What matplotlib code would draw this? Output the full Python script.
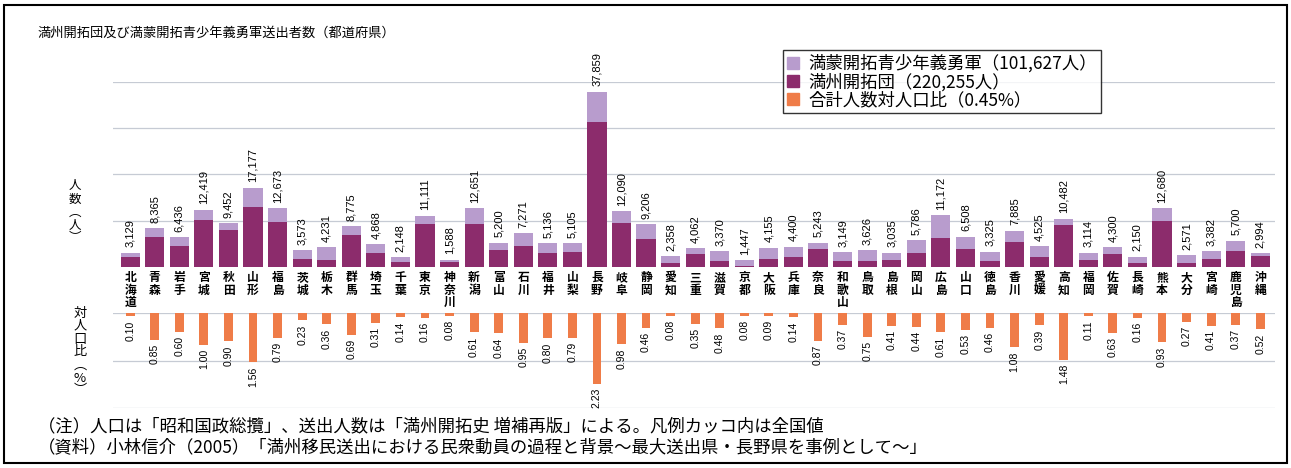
import matplotlib
matplotlib.use('Agg')
import matplotlib.pyplot as plt
from matplotlib.patches import Patch, Rectangle
from matplotlib.transforms import offset_copy
import numpy as np

# Japanese text needs a CJK font, digits fall back to DejaVu
plt.rcParams['font.family'] = ['Noto Sans CJK JP', 'DejaVu Sans']

prefs = ['北海道', '青森', '岩手', '宮城', '秋田', '山形', '福島', '茨城', '栃木', '群馬',
         '埼玉', '千葉', '東京', '神奈川', '新潟', '富山', '石川', '福井', '山梨', '長野',
         '岐阜', '静岡', '愛知', '三重', '滋賀', '京都', '大阪', '兵庫', '奈良', '和歌山',
         '鳥取', '島根', '岡山', '広島', '山口', '徳島', '香川', '愛媛', '高知', '福岡',
         '佐賀', '長崎', '熊本', '大分', '宮崎', '鹿児島', '沖縄']

# total sent (settlers + youth corps), as labelled on the bars
totals = [3129, 8365, 6436, 12419, 9452, 17177, 12673, 3573, 4231, 8775,
          4868, 2148, 11111, 1588, 12651, 5200, 7271, 5136, 5105, 37859,
          12090, 9206, 2358, 4062, 3370, 1447, 4155, 4400, 5243, 3149,
          3626, 3035, 5786, 11172, 6508, 3325, 7885, 4525, 10482, 3114,
          4300, 2150, 12680, 2571, 3382, 5700, 2994]

# 満州開拓団 (dark part)
settlers = [2070, 6520, 4510, 10180, 7940, 13060, 9630, 1720, 1440, 7020,
            3020, 1180, 9220, 1110, 9360, 3740, 4510, 3080, 3220, 31420,
            9430, 6080, 760, 2840, 1350, 150, 1830, 2110, 3880, 1260,
            1340, 1430, 3010, 6370, 3900, 1230, 5440, 2170, 9010, 1620,
            2880, 880, 9890, 850, 1790, 3420, 2310]

# 合計人数対人口比 (%)
ratios = [0.10, 0.85, 0.60, 1.00, 0.90, 1.56, 0.79, 0.23, 0.36, 0.69,
          0.31, 0.14, 0.16, 0.08, 0.61, 0.64, 0.95, 0.80, 0.79, 2.23,
          0.98, 0.46, 0.08, 0.35, 0.48, 0.08, 0.09, 0.14, 0.87, 0.37,
          0.75, 0.41, 0.44, 0.61, 0.53, 0.46, 1.08, 0.39, 1.48, 0.11,
          0.63, 0.16, 0.93, 0.27, 0.41, 0.37, 0.52]

legend_labels = ['満蒙開拓青少年義勇軍（101,627人）', '満州開拓団（220,255人）', '合計人数対人口比（0.45%）']

light = '#b89ccd'
dark = '#8c2c6c'
orange = '#ef7c48'
grid_c = '#c6cbd4'

youth = np.array(totals) - np.array(settlers)
x = np.arange(len(prefs))

fig = plt.figure(figsize=(12.91, 4.68), dpi=100)
ax = fig.add_axes([0.0875, 0.4295, 0.9001, 0.3953])
ax2 = fig.add_axes([0.0875, 0.1282, 0.9001, 0.2030])

# top panel: stacked counts
ax.bar(x, settlers, width=0.78, color=dark, zorder=2)
ax.bar(x, youth, bottom=settlers, width=0.78, color=light, zorder=2)
above = offset_copy(ax.transData, fig=fig, x=0, y=4, units='points')
below = offset_copy(ax.transData, fig=fig, x=0, y=-3, units='points')
for xi, t in zip(x, totals):
    ax.text(xi, t, f"{t:,}", transform=above, rotation=90, ha='center', va='bottom',
            fontsize=8, family='Liberation Sans', clip_on=False)
for xi, p in zip(x, prefs):
    ax.text(xi, 0, '\n'.join(p), transform=below, ha='center', va='top', fontsize=8.5,
            linespacing=0.95, fontweight='bold', clip_on=False)
ax.set_xlim(-0.7, 46.6)
ax.set_ylim(0, 40000)
ax.set_yticks([10000, 20000, 30000, 40000])
ax.grid(axis='y', color=grid_c, lw=0.9, zorder=0)

# bottom panel: ratio to population, hanging down
ax2.bar(x, ratios, width=0.36, color=orange, zorder=2)
below2 = offset_copy(ax2.transData, fig=fig, x=0, y=-3, units='points')
for xi, r in zip(x, ratios):
    ax2.text(xi, r, f"{r:.2f}", transform=below2, rotation=90, ha='center', va='top',
             fontsize=7.5, family='Liberation Sans', clip_on=False)
ax2.set_xlim(-0.7, 46.6)
ax2.set_ylim(3.0, 0)
ax2.set_yticks([0, 1.5, 3.0])
ax2.grid(axis='y', color=grid_c, lw=0.9, zorder=0)

for a in (ax, ax2):
    a.tick_params(left=False, labelleft=False, bottom=False, labelbottom=False)
    for s in a.spines.values():
        s.set_visible(False)
    a.set_facecolor('none')

handles = [Patch(color=light), Patch(color=dark), Patch(color=orange)]
leg = fig.legend(handles, legend_labels, loc='upper left',
                 bbox_to_anchor=(783 / 1291, 1 - 50 / 468), fontsize=12.5,
                 frameon=True, fancybox=False, edgecolor='black',
                 handlelength=0.7, handleheight=0.7, handletextpad=0.5,
                 labelspacing=0.0, borderpad=0.25, borderaxespad=0)
leg.get_frame().set_linewidth(1.0)

fig.text(38 / 1291, 1 - 33 / 468, '満州開拓団及び満蒙開拓青少年義勇軍送出者数（都道府県）',
         fontsize=9.5, ha='left', va='center')
fig.text(75 / 1291, 1 - 212 / 468, '人\n数\n︵\n人\n︶', fontsize=9,
         ha='center', va='center', linespacing=1.0)
fig.text(80 / 1291, 1 - 352 / 468, '対\n人\n口\n比\n︵\n%\n︶', fontsize=9.5,
         ha='center', va='center', linespacing=1.0)

fig.text(38 / 1291, 1 - 426 / 468,
         '（注）人口は「昭和国政総攬」、送出人数は「満州開拓史 増補再版」による。凡例カッコ内は全国値',
         fontsize=12.5, ha='left', va='center')
fig.text(38 / 1291, 1 - 447 / 468,
         '（資料）小林信介（2005）「満州移民送出における民衆動員の過程と背景〜最大送出県・長野県を事例として〜」',
         fontsize=12.5, ha='left', va='center')

fig.patches.append(Rectangle((0.003, 0.01), 0.994, 0.979, transform=fig.transFigure,
                             fill=False, ec='black', lw=1.5))

fig.savefig('out.png', dpi=100, facecolor='white')
